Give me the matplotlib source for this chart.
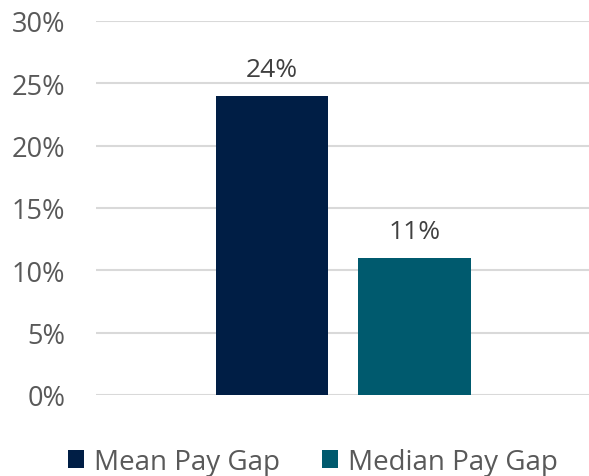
import matplotlib.pyplot as plt
from matplotlib.ticker import PercentFormatter

plt.rcParams['font.family'] = ['Open Sans', 'DejaVu Sans']

series = ["Mean Pay Gap", "Median Pay Gap"]
values = [24, 11]
colors = ["#001e45", "#005a6e"]
yticks = [0, 5, 10, 15, 20, 25, 30]

txt = "#595959"
fig = plt.figure(figsize=(5.89, 4.77), dpi=100)
ax = fig.add_axes([0.163, 0.170, 0.84, 0.784])

width = 0.227
offsets = [-0.1437, 0.1437]
for name, v, c, off in zip(series, values, colors, offsets):
    ax.bar(off, v, width=width, color=c, label=name, zorder=3)
    ax.text(off, v + 1.1, f"{v}%", ha="center", va="bottom", fontsize=19, color="#404040")

ax.set_xlim(-0.5, 0.5)
ax.set_ylim(0, 30)
ax.set_yticks(yticks)
ax.yaxis.set_major_formatter(PercentFormatter(decimals=0))
ax.set_xticks([])
ax.grid(axis="y", color="#d9d9d9", linewidth=1.5, zorder=0)
for s in ["top", "right", "left", "bottom"]:
    ax.spines[s].set_visible(False)
ax.tick_params(axis="y", length=0, pad=22, labelsize=19.5, labelcolor=txt)

fig.legend(loc="center", bbox_to_anchor=(0.531, 0.03), ncol=2, frameon=False,
           fontsize=20, labelcolor=txt, handlelength=0.6, handleheight=0.6,
           handletextpad=0.35, columnspacing=1.5)

fig.savefig("out.png", dpi=100)
